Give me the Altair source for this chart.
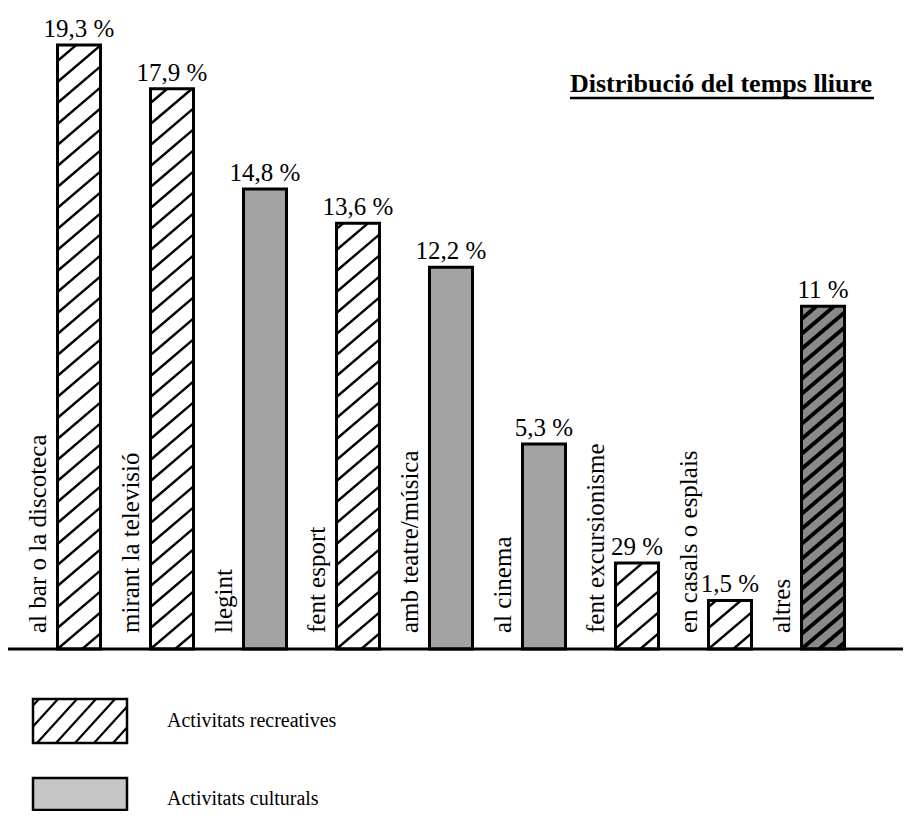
import altair as alt
import pandas as pd

# ---------------- data ----------------
categories = ["al bar o la discoteca", "mirant la televisió", "llegint", "fent esport",
              "amb teatre/música", "al cinema", "fent excursionisme", "en casals o esplais", "altres"]
value_labels = ["19,3 %", "17,9 %", "14,8 %", "13,6 %", "12,2 %", "5,3 %", "29 %", "1,5 %", "11 %"]
bar_heights = [19.3, 17.9, 14.7, 13.6, 12.2, 6.55, 2.75, 1.55, 10.95]   # as drawn (percent units)
kinds = ["rec", "rec", "cul", "rec", "cul", "cul", "rec", "rec", "both"]
title_text = "Distribució del temps lliure"
legend_texts = ["Activitats recreatives", "Activitats culturals"]

# ---------------- layout ----------------
W_PX, H_PX = 895, 803
PX_X = 93.0          # pixels per category step
PX_Y = 31.3          # pixels per percent
X_FIRST = 71.0       # plot-x of first bar centre
Y_BASE = 641.0       # plot-y of the baseline
BAR_W = 43.0 / PX_X  # bar width in category units
FONT = "Liberation Serif"

x_dom = [-X_FIRST / PX_X, (W_PX - X_FIRST) / PX_X]
y_dom = [(Y_BASE - H_PX) / PX_Y, Y_BASE / PX_Y]
xs = alt.Scale(domain=x_dom, nice=False, zero=False)
ys = alt.Scale(domain=y_dom, nice=False, zero=False)

df = pd.DataFrame({"cat": categories, "label": value_labels, "h": bar_heights,
                   "kind": kinds, "idx": list(range(len(categories)))})

base = alt.Chart(df).transform_calculate(
    xl=f"datum.idx - {BAR_W / 2}", xr=f"datum.idx + {BAR_W / 2}", zero="0")

fill_scale = alt.Scale(domain=["rec", "cul", "both"], range=["#ffffff", "#a3a3a3", "#8a8a8a"])

bars_fill = base.mark_rect(strokeWidth=0).encode(
    x=alt.X("xl:Q", scale=xs, axis=None), x2="xr:Q",
    y=alt.Y("h:Q", scale=ys, axis=None), y2="zero:Q",
    fill=alt.Fill("kind:N", scale=fill_scale, legend=None))

# diagonal hatching inside the recreative bars
RISE = BAR_W * PX_X * 0.85 / PX_Y
hatch = (base.transform_filter("datum.kind != 'cul'")
         .transform_calculate(sv=f"datum.kind == 'both' ? {15 / PX_Y} : {21 / PX_Y}")
         .transform_calculate(k="sequence(-4, ceil(datum.h / datum.sv) + 2)")
         .transform_flatten(["k"])
         .transform_calculate(y0="datum.k * datum.sv")
         .transform_calculate(y1=f"datum.y0 + {RISE}")
         .transform_filter("datum.y1 > 0 && datum.y0 < datum.h")
         .transform_calculate(
             xa=f"datum.y0 < 0 ? datum.xl + (-datum.y0) / {RISE} * {BAR_W} : datum.xl",
             ya="max(datum.y0, 0)",
             xb=f"datum.y1 > datum.h ? datum.xl + (datum.h - datum.y0) / {RISE} * {BAR_W} : datum.xr",
             yb="min(datum.y1, datum.h)")
         .mark_rule(color="black")
         .encode(x=alt.X("xa:Q", scale=xs), x2="xb:Q",
                 y=alt.Y("ya:Q", scale=ys), y2="yb:Q",
                 strokeWidth=alt.StrokeWidth("kind:N", scale=alt.Scale(domain=["rec", "both"], range=[2.4, 3.8]),
                                             legend=None)))

bars_outline = base.mark_rect(fill="white", fillOpacity=0, stroke="black", strokeWidth=3).encode(
    x=alt.X("xl:Q", scale=xs), x2="xr:Q", y=alt.Y("h:Q", scale=ys), y2="zero:Q")

value_text = base.mark_text(font=FONT, fontSize=25, baseline="alphabetic", align="center", dy=-8,
                            color="black").encode(
    x=alt.X("idx:Q", scale=xs), y=alt.Y("h:Q", scale=ys), text="label:N")

cat_text = (base.transform_calculate(xt=f"datum.idx - {33.5 / PX_X}", yt=f"{16 / PX_Y}")
            .mark_text(font=FONT, fontSize=25, angle=270, align="left", baseline="alphabetic", color="black")
            .encode(x=alt.X("xt:Q", scale=xs), y=alt.Y("yt:Q", scale=ys), text="cat:N"))

one = pd.DataFrame({"t": [title_text], "z": [0]})
baseline = alt.Chart(one).mark_rule(color="black", strokeWidth=3).encode(
    x=alt.value(0), x2=alt.value(W_PX), y=alt.Y("z:Q", scale=ys))

title = alt.Chart(one).mark_text(font=FONT, fontSize=26, fontWeight="bold", align="left",
                                 baseline="alphabetic", color="black").encode(
    x=alt.value(562), y=alt.value(84), text="t:N")
underline = alt.Chart(one).mark_rule(color="black", strokeWidth=2.5).encode(
    x=alt.value(562), x2=alt.value(866), y=alt.value(90))

# ---------------- legend ----------------
LX0, LX1 = 25, 119
L1Y0, L1Y1 = 691, 735
L2Y0, L2Y1 = 770, 802

leg_box1 = alt.Chart(one).mark_rect(fill="white", stroke="black", strokeWidth=2.5).encode(
    x=alt.value(LX0), x2=alt.value(LX1), y=alt.value(L1Y0), y2=alt.value(L1Y1))
leg_box2 = alt.Chart(one).mark_rect(fill="#c6c6c6", stroke="black", strokeWidth=2.5).encode(
    x=alt.value(LX0), x2=alt.value(LX1), y=alt.value(L2Y0), y2=alt.value(L2Y1))

LSLOPE = 1.1
LD = (L1Y1 - L1Y0) / LSLOPE
leg_hatch = (alt.Chart(alt.sequence(-3, 6, as_="k"))
             .transform_calculate(xb=f"{LX0 + 4} + datum.k * 19")
             .transform_filter(f"datum.xb + {LD} > {LX0} && datum.xb < {LX1}")
             .transform_calculate(xa=f"max(datum.xb, {LX0})",
                                  xe=f"min(datum.xb + {LD}, {LX1})")
             .transform_calculate(ya=f"{L1Y1} - (datum.xa - datum.xb) * {LSLOPE}",
                                  ye=f"{L1Y1} - (datum.xe - datum.xb) * {LSLOPE}")
             .transform_calculate(
                 xa_d=f"datum.xa / {PX_X} + {x_dom[0]}", xe_d=f"datum.xe / {PX_X} + {x_dom[0]}",
                 ya_d=f"{y_dom[1]} - datum.ya / {PX_Y}", ye_d=f"{y_dom[1]} - datum.ye / {PX_Y}")
             .mark_rule(color="black", strokeWidth=2.2)
             .encode(x=alt.X("xa_d:Q", scale=xs), x2="xe_d:Q",
                     y=alt.Y("ya_d:Q", scale=ys), y2="ye_d:Q"))

leg_df = pd.DataFrame({"t": legend_texts})
leg_text1 = alt.Chart(leg_df).transform_filter(f"datum.t == '{legend_texts[0]}'").mark_text(
    font=FONT, fontSize=20, align="left", baseline="alphabetic", color="black").encode(
    x=alt.value(159), y=alt.value(719), text="t:N")
leg_text2 = alt.Chart(leg_df).transform_filter(f"datum.t == '{legend_texts[1]}'").mark_text(
    font=FONT, fontSize=20, align="left", baseline="alphabetic", color="black").encode(
    x=alt.value(159), y=alt.value(797), text="t:N")

chart = alt.layer(
    bars_fill, hatch, bars_outline, value_text, cat_text, baseline, title, underline,
    leg_box1, leg_hatch, leg_box2, leg_text1, leg_text2
).properties(
    width=W_PX, height=H_PX, padding=0, background="white",
    autosize=alt.AutoSizeParams(type="none")
).configure_view(stroke=None)

chart.save("out.html", embed_options={"renderer": "svg", "actions": False})
